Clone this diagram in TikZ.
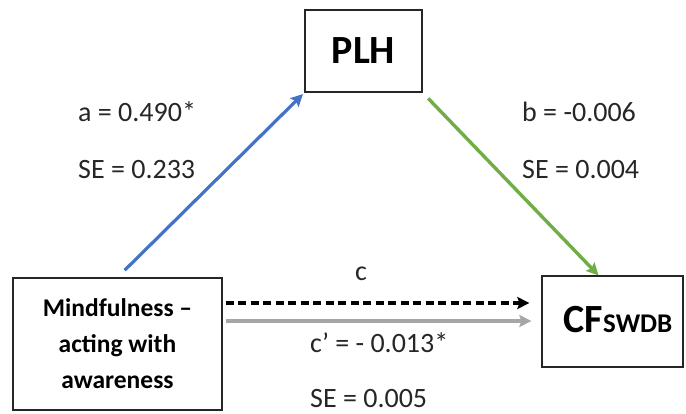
\documentclass[tikz,border=0pt]{standalone}
\usepackage{fontspec}
\setmainfont{Carlito}
\usetikzlibrary{arrows.meta}
\definecolor{arrblue}{HTML}{4472C4}
\definecolor{arrgreen}{HTML}{70AD47}
\definecolor{arrgray}{HTML}{A6A6A6}
\tikzset{
  box/.style={draw=black!85, line width=1.3pt, inner sep=0pt, align=center},
  lbl/.style={anchor=base west, inner sep=0pt, font=\fontsize{28}{32}\selectfont, text=black!85},
  tip/.style={-{Stealth[length=12pt,width=12pt,inset=2pt]}},
}
\begin{document}
\begin{tikzpicture}[x=1pt,y=-1pt]
\useasboundingbox (0,0) rectangle (686,413);
\node[box, minimum width=117pt, minimum height=82pt, font=\fontsize{40}{46}\bfseries\selectfont] (plh) at (363.5,51) {PLH};
\node[box, minimum width=209pt, minimum height=132pt, font=\fontsize{25.5}{36}\bfseries\selectfont] (mind) at (117.5,344) {Mindfulness –\\acting with\\awareness};
\node[box, minimum width=141pt, minimum height=91pt] (cf) at (612.5,321.5) {};
\node[inner sep=0pt, anchor=base] (cftext) at (618,332) {\fontsize{40}{46}\bfseries\selectfont CF\fontsize{27}{30}\selectfont SWDB};

\node[lbl] (a) at (78,121) {a = 0.490*};
\node[lbl] (sea) at (78,178) {SE = 0.233};
\node[lbl] (b) at (522,121) {b = -0.006};
\node[lbl] (seb) at (522,178) {SE = 0.004};
\node[lbl] (c) at (355,280) {c};
\node[lbl] (cp) at (310,352) {c’ = - 0.013*};
\node[lbl] (sec) at (310,407) {SE = 0.005};

\draw[tip, arrblue, line width=3.2pt, shorten <=10pt, shorten >=2pt] (mind.north) -- (plh.south west);
\draw[tip, arrgreen, line width=3.4pt, shorten <=8pt] (plh.south east) -- ([xshift=-14pt]cf.north);
\draw[tip, black, line width=3.4pt, dash pattern=on 8pt off 4.5pt, shorten <=3pt, shorten >=12pt] ([yshift=41pt]mind.east) -- ([yshift=41pt]mind.east -| cf.west);
\draw[tip, arrgray, line width=3.2pt, shorten <=3pt, shorten >=10pt] ([yshift=23pt]mind.east) -- ([yshift=23pt]mind.east -| cf.west);
\end{tikzpicture}
\end{document}
